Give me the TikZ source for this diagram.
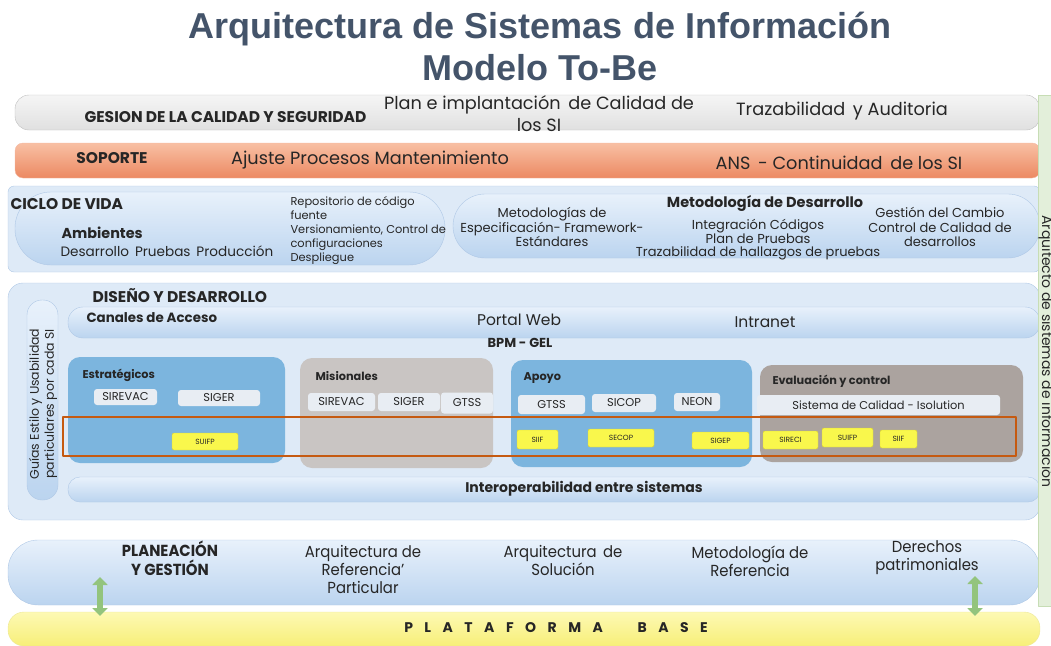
\documentclass[tikz,border=0pt]{standalone}
\usepackage{fontspec}
\setmainfont{Poppins}
\newfontfamily\titlefont{Liberation Sans}
\usetikzlibrary{arrows.meta}
\definecolor{tituloc}{HTML}{44546A}
\definecolor{textoc}{HTML}{262626}
\definecolor{grisarriba}{HTML}{F5F5F5}
\definecolor{grisabajo}{HTML}{E0E0E0}
\definecolor{grisborde}{HTML}{BFBFBF}
\definecolor{naranjaarriba}{HTML}{F8C0A4}
\definecolor{naranjaabajo}{HTML}{EC8962}
\definecolor{azulfondo}{HTML}{DEEAF7}
\definecolor{azulborde}{HTML}{AFC8E6}
\definecolor{pillarriba}{HTML}{E8F1FB}
\definecolor{pillabajo}{HTML}{BBD4EF}
\definecolor{bloqueazul}{HTML}{7CB5DE}
\definecolor{bloquegris}{HTML}{C9C5C3}
\definecolor{bloqueoscuro}{HTML}{ABA39F}
\definecolor{cajita}{HTML}{E8EDF3}
\definecolor{amarillo}{HTML}{F9F74C}
\definecolor{amarilloborde}{HTML}{D9D030}
\definecolor{platarriba}{HTML}{FDF9B4}
\definecolor{platabajo}{HTML}{F7EF78}
\definecolor{franjaverde}{HTML}{E3EFDA}
\definecolor{franjaborde}{HTML}{C7DDB5}
\definecolor{flechaverde}{HTML}{93C47D}
\definecolor{marco}{HTML}{C55A11}
\tikzset{
  titulo/.style={font=\titlefont\bfseries\fontsize{36}{40}\selectfont, text=tituloc, anchor=base},
  btxt/.style={font=\bfseries\fontsize{15.5}{17}\selectfont, text=textoc},
  mtxt/.style={font=\fontsize{17.7}{22}\selectfont, text=textoc, align=center},
  ctxt/.style={font=\fontsize{13}{14.8}\selectfont, text=textoc, align=center},
  stxt/.style={font=\fontsize{11.4}{13.9}\selectfont, text=textoc, align=left},
  ttxt/.style={font=\bfseries\fontsize{11.3}{13}\selectfont, text=textoc},
  ptxt/.style={font=\fontsize{16}{18}\selectfont, text=textoc, align=center, xscale=0.93},
  barragris/.style={draw=grisborde, top color=grisarriba, bottom color=grisabajo},
  barranaranja/.style={draw=naranjaabajo!60, top color=naranjaarriba, bottom color=naranjaabajo},
  fondo/.style={draw=azulborde, fill=azulfondo},
  pill/.style={draw=azulborde, top color=pillarriba, bottom color=pillabajo},
  sisbox/.style={fill=cajita, rounded corners=3, inner sep=0pt, font=\fontsize{11.4}{13}\selectfont, text=textoc},
  amabox/.style={fill=amarillo, draw=amarilloborde, rounded corners=2, inner sep=0pt, font=\fontsize{7.5}{9}\selectfont, text=textoc},
  flecha/.style={flechaverde, line width=6pt, line cap=butt, {Triangle[width=15pt,length=8pt]}-{Triangle[width=15pt,length=8pt]}}
}
\def\esp{\hspace{11.5pt}}
\begin{document}
\begin{tikzpicture}[x=1pt, y=-1pt, line join=round]
\useasboundingbox (0,0) rectangle (1051,645);
% titulo
\node[titulo] (tit1) at (540,38) {Arquitectura de Sistemas de Información};
\node[titulo] (tit2) at (540,80) {Modelo To-Be};
% gestion de la calidad y seguridad
\draw[barragris, rounded corners=14] (15,95) rectangle (1040,130);
\node[btxt, anchor=west] (gesion) at (81,117) {GESION DE LA CALIDAD Y SEGURIDAD};
\node[mtxt] (plan) at (539,114) {Plan e implantación \,de Calidad de\\los SI};
\node[mtxt] (traz) at (842,111) {Trazabilidad \,y Auditoria};
% soporte
\draw[barranaranja, rounded corners=8] (15,143) rectangle (1040,178);
\node[btxt] (soporte) at (112,158) {SOPORTE};
\node[mtxt] (ajuste) at (370,160) {Ajuste Procesos Mantenimiento};
\node[mtxt] (ans) at (839,163) {ANS \,- Continuidad \,de los SI};
% ciclo de vida
\draw[fondo, rounded corners=6] (8,186) rectangle (1040,272);
\draw[pill, rounded corners=36] (15,192) rectangle (445,265);
\draw[pill, rounded corners=32] (453,194) rectangle (1040,258);
\node[btxt, anchor=west] (ciclo) at (7,204) {CICLO DE VIDA};
\node[btxt, anchor=west, font=\bfseries\fontsize{14.4}{16}\selectfont] (amb) at (58,233) {Ambientes};
\node[ctxt, anchor=west, font=\fontsize{13.6}{15}\selectfont] (ambs) at (57,251) {Desarrollo \,Pruebas \,Producción};
\node[stxt, anchor=north west] (repo) at (287,193) {Repositorio de código\\fuente\\Versionamiento, Control de\\configuraciones\\Despliegue};
\node[ctxt] (espec) at (552,227) {Metodologías de\\Especificación- Framework-\\Estándares};
\node[btxt, font=\bfseries\fontsize{14.5}{16}\selectfont] (metdes) at (765,203) {Metodología de Desarrollo};
\node[ctxt, font=\fontsize{13}{14}\selectfont] (integ) at (758,231) {Integración Códigos\\Plan de Pruebas};
\node[ctxt] (hallaz) at (758,253) {Trazabilidad de hallazgos de pruebas};
\node[ctxt] (cambio) at (940,227) {Gestión del Cambio\\Control de Calidad de\\desarrollos};
% diseno y desarrollo
\draw[fondo, rounded corners=15] (8,283) rectangle (1040,520);
\draw[pill, rounded corners=15] (27,300) rectangle (58,500);
\draw[pill, rounded corners=15] (68,307) rectangle (1040,338);
\draw[pill, rounded corners=12] (68,477) rectangle (1040,502);
\node[btxt, anchor=west] (diseno) at (89,296) {DISEÑO Y DESARROLLO};
\node[ctxt, rotate=90, font=\fontsize{12.5}{15}\selectfont] (guias) at (43,404) {Guías Estilo y Usabilidad\\particulares por cada SI};
\node[btxt, anchor=west, font=\bfseries\fontsize{13.4}{15}\selectfont] (canales) at (83,318) {Canales de Acceso};
\node[mtxt, font=\fontsize{15.5}{17}\selectfont] (portal) at (519,320) {Portal Web};
\node[mtxt, font=\fontsize{15.5}{17}\selectfont] (intra) at (765,322) {Intranet};
\node[btxt, font=\bfseries\fontsize{13}{15}\selectfont] (bpm) at (520,343) {BPM - GEL};
\node[btxt, font=\bfseries\fontsize{14}{16}\selectfont] (interop) at (584,489) {Interoperabilidad entre sistemas};
% bloques de sistemas
\fill[bloqueazul, rounded corners=12] (68,357) rectangle (285,463);
\fill[bloquegris, rounded corners=12] (300,358) rectangle (493,468);
\fill[bloqueazul, rounded corners=12] (511,360) rectangle (752,467);
\fill[bloqueoscuro, rounded corners=12] (760,365) rectangle (1023,462);
\node[ttxt, anchor=west] (estra) at (79,375) {Estratégicos};
\node[ttxt, anchor=west] (misio) at (312,376) {Misionales};
\node[ttxt, anchor=west] (apoyo) at (520,378) {Apoyo};
\node[ttxt, anchor=west] (evalu) at (769,381) {Evaluación y control};
\foreach \nm/\cx/\cy/\w/\h [count=\i] in {SIREVAC/125.5/397/63/16, SIGER/219/398/82/16,
    SIREVAC/341.5/402/67/18, SIGER/409/402/62/18, GTSS/467/403/52/21,
    GTSS/551.5/404.5/67/19, SICOP/624/403/64/18, NEON/697/402/46/18,
    Sistema de Calidad - Isolution/878.5/405/243/20}
  \node[sisbox, minimum width=\w, minimum height=\h] (sis\i) at (\cx,\cy) {\nm};
% marco naranja
\draw[marco, line width=1.5pt] (63,417) rectangle (1016,456);
\foreach \nm/\cx/\cy/\w/\h [count=\i] in {SUIFP/205/441.5/66/17, SIIF/537.5/439.5/41/19,
    SECOP/621/438/66/18, SIGEP/720.5/440.5/57/17, SIRECI/790.5/440/55/18,
    SUIFP/847.5/437.5/51/19, SIIF/898.5/439/37/18}
  \node[amabox, minimum width=\w, minimum height=\h] (ama\i) at (\cx,\cy) {\nm};
% planeacion y gestion
\draw[pill, rounded corners=30] (8,540) rectangle (1040,605);
\node[ptxt, font=\bfseries\fontsize{16}{19}\selectfont] (planea) at (170,558) {PLANEACIÓN\\Y GESTIÓN};
\node[ptxt] (arqref) at (363,569) {Arquitectura de\\Referencia'\\Particular};
\node[ptxt] (arqsol) at (563,560) {Arquitectura \,de\\Solución};
\node[ptxt] (metref) at (750,561) {Metodología de\\Referencia};
\node[ptxt] (derech) at (927,558) {Derechos\\patrimoniales};
% plataforma base
\draw[draw=amarilloborde!50, top color=platarriba, bottom color=platabajo, rounded corners=16] (8,612) rectangle (1040,646);
\node[btxt, font=\bfseries\fontsize{14}{16}\selectfont] (plataf) at (556,628)
  {P\esp L\esp A\esp T\esp A\esp F\esp O\esp R\esp M\esp A\esp\esp\esp B\esp A\esp S\esp E};
% flechas
\coordinate (f1a) at (100,577); \coordinate (f1b) at (100,616);
\coordinate (f2a) at (975,576); \coordinate (f2b) at (975,616);
\draw[flecha] (f1a) -- (f1b);
\draw[flecha] (f2a) -- (f2b);
% franja verde
\begin{scope}
  \clip (1038,95) rectangle (1051,606);
  \draw[draw=franjaborde, fill=franjaverde] (1038,95) rectangle (1060,606);
  \node[rotate=-90, anchor=base west, font=\fontsize{14}{16}\selectfont, text=textoc] (arqsi) at (1042,212) {Arquitecto de sistemas de información};
\end{scope}
\end{tikzpicture}
\end{document}
